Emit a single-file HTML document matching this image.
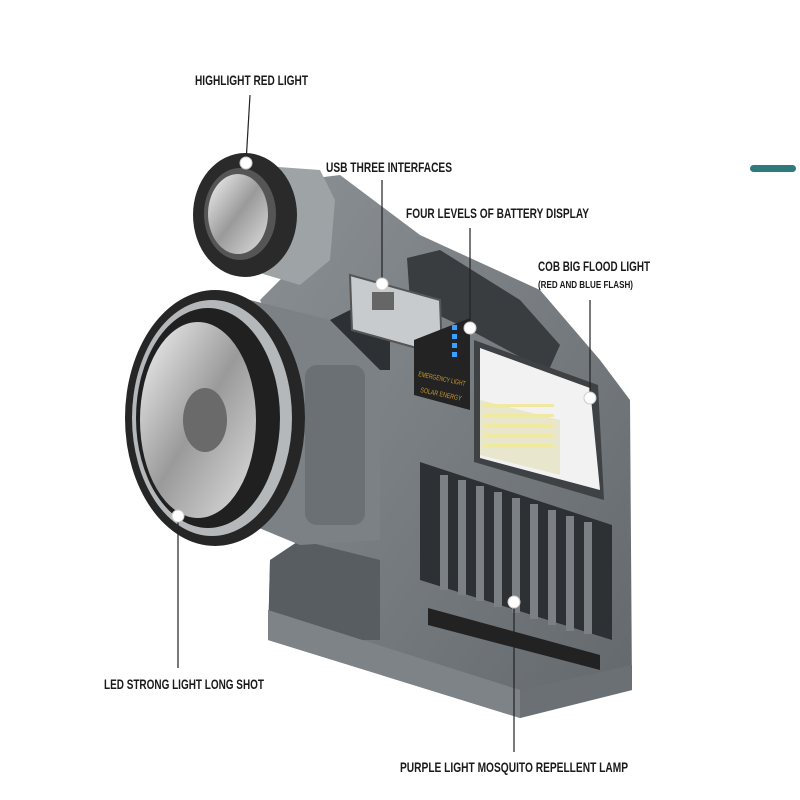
<!DOCTYPE html>
<html><head><meta charset="utf-8"><style>
html,body{margin:0;padding:0;background:#fff;}
svg{display:block}
.t{font-family:"Liberation Sans Narrow","Liberation Sans",sans-serif;font-weight:bold;font-size:14px;fill:#1a1a1a;}
.s{font-family:"Liberation Sans Narrow","Liberation Sans",sans-serif;font-weight:bold;font-size:10px;fill:#1a1a1a;}
</style></head><body>
<svg width="800" height="800" viewBox="0 0 800 800" xmlns="http://www.w3.org/2000/svg">
<defs>
<linearGradient id="refl" x1="0" y1="0" x2="1" y2="1">
<stop offset="0" stop-color="#f4f4f4"/><stop offset="0.5" stop-color="#9a9a9a"/><stop offset="1" stop-color="#e0e0e0"/>
</linearGradient>
<linearGradient id="body" x1="0" y1="0" x2="1" y2="1">
<stop offset="0" stop-color="#8a9094"/><stop offset="1" stop-color="#62686c"/>
</linearGradient>
</defs>
<rect x="750" y="165" width="46" height="7" rx="3.5" fill="#2f7a7c"/>
<polygon points="300,180 340,175 420,235 540,290 600,360 630,400 632,690 520,718 268,640 270,560 300,545 300,380 260,300 300,260" fill="url(#body)"/>
<polygon points="300,540 380,560 380,640 268,640 270,560" fill="#585d61"/>
<polygon points="268,610 520,690 520,718 268,640" fill="#7d8387"/>
<polygon points="520,690 632,665 632,690 520,718" fill="#6a7074"/>
<polygon points="407,258 440,250 520,300 560,345 548,372 470,330 410,302" fill="#3a3d40"/>
<polygon points="250,165 320,170 335,200 330,260 300,285 250,270" fill="#9ea3a6"/>
<ellipse cx="245" cy="215" rx="52" ry="62" fill="#2a2a2a"/>
<ellipse cx="240" cy="214" rx="36" ry="46" fill="#555"/>
<ellipse cx="238" cy="214" rx="30" ry="40" fill="url(#refl)"/>
<polygon points="250,300 330,320 380,360 380,540 300,545 240,520" fill="#7b8185"/>
<rect x="305" y="365" width="60" height="160" rx="12" fill="#6a7074"/>
<polygon points="330,320 390,290 390,370 380,370" fill="#2e3134"/>
<ellipse cx="215" cy="418" rx="90" ry="128" fill="#262626"/>
<ellipse cx="212" cy="418" rx="80" ry="118" fill="#b4b8ba"/>
<ellipse cx="208" cy="418" rx="72" ry="110" fill="#202020"/>
<ellipse cx="198" cy="420" rx="58" ry="98" fill="url(#refl)"/>
<ellipse cx="205" cy="420" rx="22" ry="32" fill="#6a6a6a"/>
<polygon points="350,275 440,300 442,355 352,330" fill="#c8cbcd" stroke="#555" stroke-width="2"/>
<rect x="372" y="292" width="22" height="18" fill="#666"/>
<polygon points="414,340 470,318 470,410 414,395" fill="#232323"/>
<rect x="452" y="325" width="5" height="5" fill="#3aa0ff"/><rect x="452" y="334" width="5" height="5" fill="#3aa0ff"/>
<rect x="452" y="343" width="5" height="5" fill="#3aa0ff"/><rect x="452" y="352" width="5" height="5" fill="#3aa0ff"/>
<text x="418" y="376" font-family="Liberation Sans Narrow,sans-serif" font-size="7" fill="#c9962e" textLength="48" lengthAdjust="spacingAndGlyphs" transform="rotate(12 418 376)">EMERGENCY LIGHT</text>
<text x="420" y="392" font-family="Liberation Sans Narrow,sans-serif" font-size="7" fill="#c9962e" textLength="42" lengthAdjust="spacingAndGlyphs" transform="rotate(12 420 392)">SOLAR ENERGY</text>
<polygon points="474,340 598,385 604,500 474,462" fill="#3e4245"/>
<polygon points="480,348 590,388 600,490 480,458" fill="#f2f2f2"/>
<polygon points="480,400 560,420 560,475 480,455" fill="#e8e6cc"/>
<g fill="#f0e9a0">
<rect x="484" y="404" width="70" height="3"/><rect x="484" y="414" width="70" height="3"/><rect x="484" y="424" width="70" height="3"/><rect x="484" y="434" width="70" height="3"/><rect x="484" y="444" width="70" height="3"/>
</g>
<polygon points="420,462 612,525 612,640 420,580" fill="#2e3134"/>
<g fill="#7a8084">
<rect x="440" y="475" width="8" height="115"/><rect x="458" y="480" width="8" height="115"/><rect x="476" y="486" width="8" height="115"/>
<rect x="494" y="492" width="8" height="115"/><rect x="512" y="498" width="8" height="115"/><rect x="530" y="504" width="8" height="115"/>
<rect x="548" y="510" width="8" height="115"/><rect x="566" y="516" width="8" height="115"/><rect x="584" y="522" width="8" height="112"/>
</g>
<polygon points="428,608 600,655 600,670 428,625" fill="#222"/>
<g stroke="#222" stroke-width="1.2">
<line x1="250" y1="95" x2="246" y2="163"/>
<line x1="382" y1="180" x2="382" y2="282"/>
<line x1="470" y1="228" x2="470" y2="326"/>
<line x1="590" y1="300" x2="590" y2="396"/>
<line x1="178" y1="668" x2="178" y2="516"/>
<line x1="514" y1="752" x2="514" y2="602"/>
</g>
<g fill="#fff" stroke="#ccc" stroke-width="1">
<circle cx="246" cy="163" r="6"/><circle cx="382" cy="284" r="6"/><circle cx="470" cy="328" r="6"/>
<circle cx="590" cy="398" r="6"/><circle cx="178" cy="516" r="6"/><circle cx="514" cy="602" r="6"/>
</g>
<text class="t" x="195" y="85" textLength="113" lengthAdjust="spacingAndGlyphs">HIGHLIGHT RED LIGHT</text>
<text class="t" x="326" y="172" textLength="126" lengthAdjust="spacingAndGlyphs">USB THREE INTERFACES</text>
<text class="t" x="406" y="218" textLength="183" lengthAdjust="spacingAndGlyphs">FOUR LEVELS OF BATTERY DISPLAY</text>
<text class="t" x="538" y="271" textLength="112" lengthAdjust="spacingAndGlyphs">COB BIG FLOOD LIGHT</text>
<text class="s" x="538" y="288" textLength="95" lengthAdjust="spacingAndGlyphs">(RED AND BLUE FLASH)</text>
<text class="t" x="104" y="689" textLength="160" lengthAdjust="spacingAndGlyphs">LED STRONG LIGHT LONG SHOT</text>
<text class="t" x="400" y="772" textLength="228" lengthAdjust="spacingAndGlyphs">PURPLE LIGHT MOSQUITO REPELLENT LAMP</text>
</svg>
</body></html>
